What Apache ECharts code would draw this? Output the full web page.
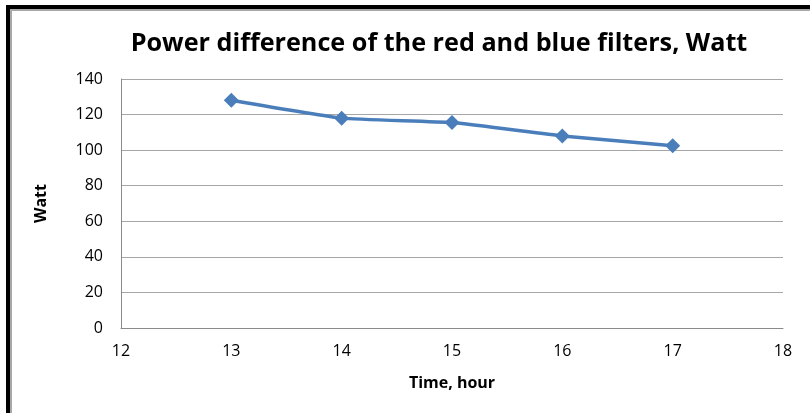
<!DOCTYPE html>
<html>
<head>
<meta charset="utf-8">
<script src="https://cdn.jsdelivr.net/npm/echarts@6/dist/echarts.min.js"></script>
<style>
  html, body { margin: 0; padding: 0; background: #fff; }
  #frame { position: absolute; left: 0; top: 0; width: 810px; height: 413px; }
  #chart { position: absolute; left: 0; top: 0; width: 810px; height: 413px; }
  #edgeTop { position: absolute; left: 6px; top: 5px; width: 804px; height: 4px; background: #000; }
  #edgeTopShade { position: absolute; left: 9px; top: 9px; width: 801px; height: 2px; background: #a8a8a8; }
  #edgeLeft { position: absolute; left: 6px; top: 5px; width: 4px; height: 408px; background: #000; }
  #edgeLeftShade { position: absolute; left: 10px; top: 9px; width: 2px; height: 404px; background: #a8a8a8; }
</style>
</head>
<body>
<div id="frame">
  <div id="chart"></div>
  <div id="edgeTopShade"></div>
  <div id="edgeLeftShade"></div>
  <div id="edgeTop"></div>
  <div id="edgeLeft"></div>
</div>
<script>
// Hours of measurement and the power difference (W) between red and blue filters
const hours = [13, 14, 15, 16, 17];
const powerDiff = [128, 118, 115.5, 108, 102.5];
const yTicks = [0, 20, 40, 60, 80, 100, 120, 140];
const xTicks = [12, 13, 14, 15, 16, 17, 18];

const chart = echarts.init(document.getElementById('chart'), null, { renderer: 'canvas' });

const fontFamily = '"Open Sans", "Noto Sans", sans-serif';

chart.setOption({
  animation: false,
  backgroundColor: '#ffffff',
  title: {
    text: 'Power difference of the red and blue filters, Watt',
    left: 434,
    top: 26,
    textAlign: 'center',
    textStyle: { fontFamily: fontFamily, fontWeight: 'bold', fontSize: 25.2, color: '#000' }
  },
  grid: { left: 121, right: 27, top: 79, bottom: 85 },
  xAxis: {
    type: 'value',
    min: xTicks[0],
    max: xTicks[xTicks.length - 1],
    interval: 1,
    name: 'Time, hour',
    nameLocation: 'middle',
    nameGap: 47,
    nameTextStyle: { fontFamily: fontFamily, fontWeight: 'bold', fontSize: 16, color: '#000' },
    axisLine: { show: true, lineStyle: { color: '#8a8a8a', width: 1 } },
    axisTick: { show: false },
    splitLine: { show: false },
    axisLabel: { fontFamily: fontFamily, fontSize: 16, color: '#000', margin: 15 }
  },
  yAxis: {
    type: 'value',
    min: yTicks[0],
    max: yTicks[yTicks.length - 1],
    interval: 20,
    name: 'Watt',
    nameLocation: 'middle',
    nameGap: 72,
    nameRotate: 90,
    nameTextStyle: { fontFamily: fontFamily, fontWeight: 'bold', fontSize: 16, color: '#000' },
    axisLine: { show: true, lineStyle: { color: '#8a8a8a', width: 1 } },
    axisTick: { show: false },
    splitLine: { show: true, lineStyle: { color: '#a6a6a6', width: 1 } },
    axisLabel: { fontFamily: fontFamily, fontSize: 16, color: '#000', margin: 18 }
  },
  series: [{
    type: 'line',
    data: hours.map((h, i) => [h, powerDiff[i]]),
    smooth: 0.15,
    symbol: 'diamond',
    symbolSize: 15,
    lineStyle: { color: '#4a7ebb', width: 3.5 },
    itemStyle: { color: '#4a7ebb' }
  }]
});
</script>
</body>
</html>
